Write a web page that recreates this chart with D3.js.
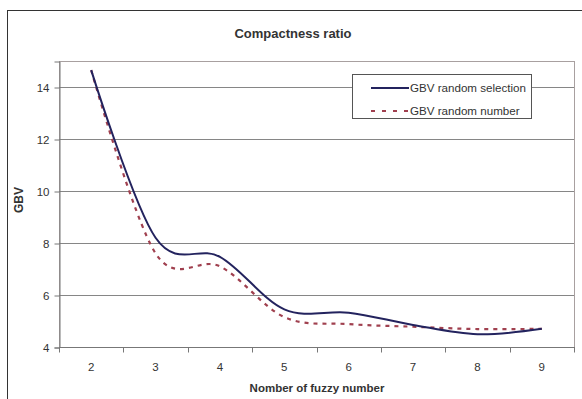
<!DOCTYPE html>
<html>
<head>
<meta charset="utf-8">
<script src="https://cdn.jsdelivr.net/npm/d3@7"></script>
<style>
  body { margin: 0; background: #fff; }
  text { font-family: "Liberation Sans", Arial, sans-serif; fill: #333; }
</style>
</head>
<body>
<div id="chart-area"></div>
<script>
const chartWidth = 582
const chartHeight = 399

// data
const categories = ["2", "3", "4", "5", "6", "7", "8", "9"]
const randomSelection = [14.65, 8.2, 7.47, 5.45, 5.32, 4.85, 4.49, 4.7]
const randomNumber = [14.65, 7.6, 7.1, 5.15, 4.88, 4.78, 4.69, 4.7]
const yTicks = [4, 6, 8, 10, 12, 14]
const seriesNames = ["GBV random selection", "GBV random number"]

const plot = {left: 59, right: 574, top: 61, bottom: 347}

const svg = d3.select("#chart-area").append("svg")
    .attr("width", chartWidth)
    .attr("height", chartHeight)

// outer frame
svg.append("rect")
    .attr("x", 7.5).attr("y", 10.5)
    .attr("width", 580).attr("height", 400)
    .attr("fill", "none").attr("stroke", "#333")

const x = d3.scaleBand()
    .domain(categories)
    .range([plot.left, plot.right])

const y = d3.scaleLinear()
    .domain([4, 15])
    .range([plot.bottom, plot.top])

// plot area border
svg.append("rect")
    .attr("x", plot.left + 0.5).attr("y", plot.top + 0.5)
    .attr("width", plot.right - plot.left).attr("height", plot.bottom - plot.top)
    .attr("fill", "none").attr("stroke", "#a8a0a0")

// gridlines
svg.append("g")
    .selectAll("line")
    .data(yTicks.filter(d => d > 4))
    .join("line")
    .attr("x1", plot.left).attr("x2", plot.right)
    .attr("y1", d => Math.round(y(d)) + 0.5)
    .attr("y2", d => Math.round(y(d)) + 0.5)
    .attr("stroke", "#868686")

// y axis
const yAxis = svg.append("g")
    .attr("transform", `translate(${plot.left + 0.5}, 0.5)`)
    .call(d3.axisLeft(y).tickValues(yTicks).tickSize(5).tickPadding(5))
yAxis.select(".domain").attr("stroke", "#777")
yAxis.selectAll(".tick line").attr("stroke", "#777")
yAxis.selectAll("text")
    .attr("font-size", "11.5px").attr("fill", "#333")
    .style("font-family", "Liberation Sans, Arial, sans-serif")

// x axis, ticks sit between categories
const xAxis = svg.append("g")
    .attr("transform", `translate(0, ${plot.bottom + 0.5})`)
xAxis.append("line")
    .attr("x1", plot.left).attr("x2", plot.right + 1)
    .attr("stroke", "#777")
xAxis.selectAll(".tk")
    .data(categories.concat(["end"]))
    .join("line")
    .attr("class", "tk")
    .attr("x1", (d, i) => Math.round(plot.left + i * x.bandwidth()) + 0.5)
    .attr("x2", (d, i) => Math.round(plot.left + i * x.bandwidth()) + 0.5)
    .attr("y1", 0).attr("y2", 5)
    .attr("stroke", "#777")
xAxis.selectAll("text")
    .data(categories)
    .join("text")
    .attr("x", d => x(d) + x.bandwidth() / 2)
    .attr("y", 23.5)
    .attr("text-anchor", "middle")
    .attr("font-size", "11.5px")
    .text(d => d)

// lines
const line = d3.line()
    .x((d, i) => x(categories[i]) + x.bandwidth() / 2)
    .y(d => y(d))
    .curve(d3.curveCardinal.tension(0))

svg.append("path")
    .datum(randomNumber)
    .attr("d", line)
    .attr("fill", "none")
    .attr("stroke", "#a0404f")
    .attr("stroke-width", 2.2)
    .attr("stroke-dasharray", "4,5")

svg.append("path")
    .datum(randomSelection)
    .attr("d", line)
    .attr("fill", "none")
    .attr("stroke", "#23235e")
    .attr("stroke-width", 2)

// legend
svg.append("rect")
    .attr("x", 352.5).attr("y", 74.5)
    .attr("width", 179).attr("height", 44)
    .attr("fill", "#fff").attr("stroke", "#555")
const legendItems = [
    {name: seriesNames[0], color: "#23235e", dash: null, y: 88},
    {name: seriesNames[1], color: "#a0404f", dash: "4,7", y: 111}
]
legendItems.forEach(item => {
    svg.append("line")
        .attr("x1", 371).attr("x2", 409)
        .attr("y1", item.y).attr("y2", item.y)
        .attr("stroke", item.color)
        .attr("stroke-width", 2.2)
        .attr("stroke-dasharray", item.dash)
    svg.append("text")
        .attr("x", 410).attr("y", item.y + 4)
        .attr("font-size", "11.6px")
        .text(item.name)
})

// titles
svg.append("text")
    .attr("x", 293).attr("y", 37.5)
    .attr("text-anchor", "middle")
    .attr("font-size", "13px").attr("font-weight", "bold")
    .text("Compactness ratio")

svg.append("text")
    .attr("x", 317).attr("y", 391.5)
    .attr("text-anchor", "middle")
    .attr("font-size", "11.5px").attr("font-weight", "bold")
    .text("Nomber of fuzzy number")

svg.append("text")
    .attr("transform", "translate(23, 200) rotate(-90)")
    .attr("text-anchor", "middle")
    .attr("font-size", "12px").attr("font-weight", "bold")
    .text("GBV")
</script>
</body>
</html>
